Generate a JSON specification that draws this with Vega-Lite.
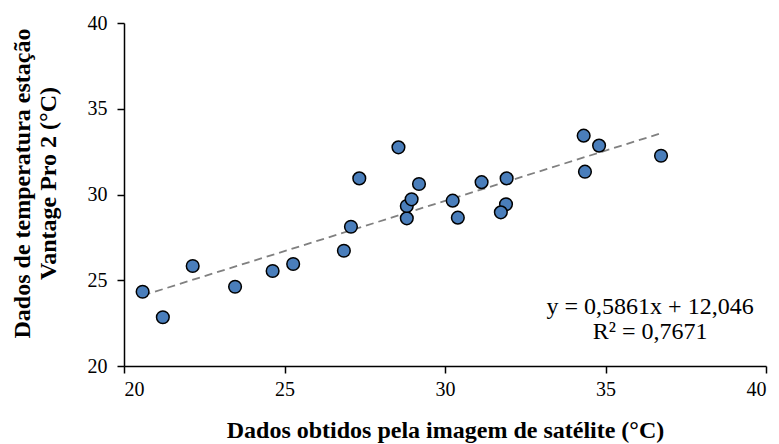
{
  "$schema": "https://vega.github.io/schema/vega-lite/v6.json",
  "width": 642,
  "height": 343,
  "autosize": {"type": "none"},
  "padding": {"left": 124, "top": 23, "right": 13, "bottom": 78},
  "background": "white",
  "config": {
    "view": {"stroke": null},
    "font": "Liberation Serif",
    "axis": {"grid": false, "domainColor": "black", "tickColor": "black", "domainWidth": 1.5, "tickWidth": 1.5, "tickSize": 7, "labelFont": "Liberation Serif", "labelFontSize": 20, "labelColor": "black", "titleFont": "Liberation Serif", "titleFontWeight": "bold", "titleColor": "black"}
  },
  "datasets": {
    "pts": [
      {"sat": 20.58, "est": 24.33},
      {"sat": 21.21, "est": 22.84},
      {"sat": 22.14, "est": 25.83},
      {"sat": 23.46, "est": 24.62},
      {"sat": 24.63, "est": 25.54},
      {"sat": 25.27, "est": 25.95},
      {"sat": 26.85, "est": 26.72},
      {"sat": 27.07, "est": 28.12},
      {"sat": 27.33, "est": 30.94},
      {"sat": 28.81, "est": 28.61},
      {"sat": 28.81, "est": 29.33},
      {"sat": 28.96, "est": 29.72},
      {"sat": 29.19, "est": 30.61},
      {"sat": 28.55, "est": 32.75},
      {"sat": 30.24, "est": 29.64},
      {"sat": 30.40, "est": 28.65},
      {"sat": 31.14, "est": 30.72},
      {"sat": 31.92, "est": 30.94},
      {"sat": 31.90, "est": 29.43},
      {"sat": 31.74, "est": 28.96},
      {"sat": 34.32, "est": 33.43},
      {"sat": 34.80, "est": 32.85},
      {"sat": 34.36, "est": 31.33},
      {"sat": 36.73, "est": 32.26}
    ],
    "trend": [
      {"sat": 20.58, "est": 24.11},
      {"sat": 36.73, "est": 33.57}
    ],
    "label": [
      {"sat": 36.39, "est": 23.44, "txt": "y = 0,5861x + 12,046"},
      {"sat": 36.39, "est": 22.0, "txt": "R² = 0,7671"}
    ]
  },
  "layer": [
    {
      "data": {"name": "trend"},
      "mark": {"type": "line", "color": "#808080", "strokeWidth": 1.8, "strokeDash": [8, 5]},
      "encoding": {
        "x": {"field": "sat", "type": "quantitative", "scale": {"domain": [20, 40], "nice": false, "zero": false},
          "axis": {"values": [20, 25, 30, 35, 40], "title": "Dados obtidos pela imagem de satélite (°C)", "titleFontSize": 24, "labelPadding": 6, "titleX": 321, "titleY": 71, "titleAlign": "center", "titleBaseline": "alphabetic"}},
        "y": {"field": "est", "type": "quantitative", "scale": {"domain": [20, 40], "nice": false, "zero": false},
          "axis": {"values": [20, 25, 30, 35, 40], "title": ["Dados de temperatura estação", "Vantage Pro 2  (°C)"], "titleFontSize": 24, "titleLineHeight": 26, "labelPadding": 10, "titleAngle": -90, "titleX": -95, "titleY": 160, "titleAlign": "center", "titleBaseline": "alphabetic"}}
      }
    },
    {
      "data": {"name": "pts"},
      "mark": {"type": "point", "shape": "circle", "filled": true, "fill": "#4a7ebb", "stroke": "black", "strokeWidth": 1.5, "size": 160, "opacity": 1},
      "encoding": {
        "x": {"field": "sat", "type": "quantitative"},
        "y": {"field": "est", "type": "quantitative"}
      }
    },
    {
      "data": {"name": "label"},
      "mark": {"type": "text", "font": "Liberation Serif", "fontSize": 24, "color": "black", "align": "center", "baseline": "middle"},
      "encoding": {
        "x": {"field": "sat", "type": "quantitative"},
        "y": {"field": "est", "type": "quantitative"},
        "text": {"field": "txt"}
      }
    }
  ]
}
